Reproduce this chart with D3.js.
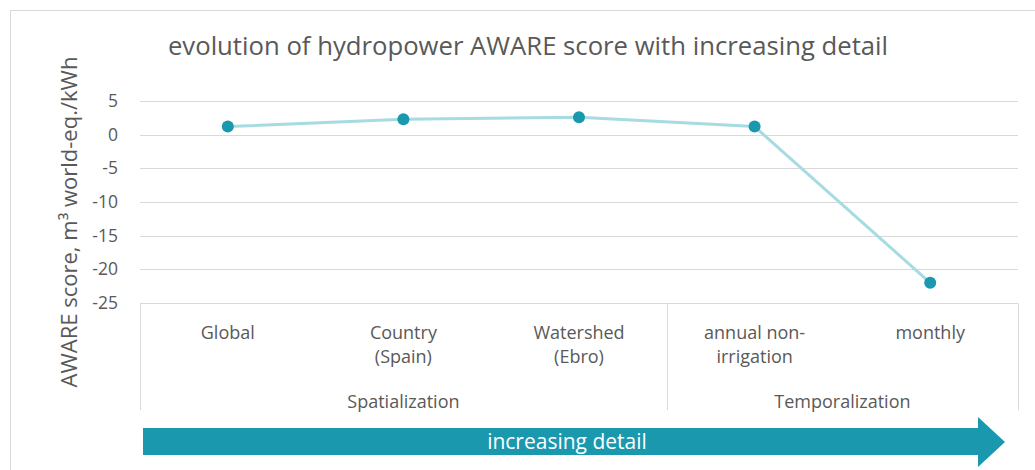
<!DOCTYPE html>
<html>
<head>
<meta charset="utf-8">
<script src="https://cdn.jsdelivr.net/npm/d3@7"></script>
<style>
  html, body { margin: 0; padding: 0; background: #fff; }
  svg { display: block; font-family: "Open Sans", "Noto Sans", sans-serif; }
</style>
</head>
<body>
<svg id="chart" width="1035" height="470"></svg>
<script>
// ---- data ----
const categories = ["Global", "Country (Spain)", "Watershed (Ebro)", "annual non-irrigation", "monthly"];
const categoryLines = [["Global"], ["Country", "(Spain)"], ["Watershed", "(Ebro)"], ["annual non-", "irrigation"], ["monthly"]];
const values = [1.2, 2.3, 2.6, 1.2, -22.0];
const groups = ["Spatialization", "Temporalization"];
const groupStart = [0, 3];
const groupEnd = [2, 4];
const yTicks = [5, 0, -5, -10, -15, -20, -25];
const title = "evolution of hydropower AWARE score with increasing detail";
const yTitle = "AWARE score, m³ world-eq./kWh";
const arrowLabel = "increasing detail";

// ---- layout ----
const svg = d3.select("#chart");
const W = 1035, H = 470;
const plot = { left: 140, right: 1018, top: 101, bottom: 303 };
const textColor = "#595959";
const gridColor = "#d9d9d9";
const teal = "#1a98ad";
const lineColor = "#a6dbe2";

// outer border
svg.append("rect").attr("x", 10.5).attr("y", 10.5).attr("width", W).attr("height", H)
  .attr("fill", "none").attr("stroke", gridColor).attr("stroke-width", 1);

const x = d3.scaleBand().domain(categories).range([plot.left, plot.right]).padding(0);
const y = d3.scaleLinear().domain([-25, 5]).range([plot.bottom, plot.top]);

// title
svg.append("text").attr("x", 528).attr("y", 55).attr("text-anchor", "middle")
  .attr("font-size", 25.7).attr("fill", textColor).text(title);

// y grid + ticks
const yAxis = d3.axisLeft(y).tickValues(yTicks).tickSize(0).tickPadding(0)
  .tickFormat(d => d3.format("d")(d).replace("−", "-"));
const yg = svg.append("g").attr("transform", `translate(${plot.left - 22},0)`).call(yAxis);
yg.select(".domain").remove();
yg.selectAll("text").attr("font-size", 17.5).attr("fill", textColor).attr("font-family", "Open Sans, sans-serif");

svg.append("g").selectAll("line").data(yTicks.filter(d => d !== -25)).join("line")
  .attr("x1", plot.left).attr("x2", plot.right)
  .attr("y1", d => Math.round(y(d)) + 0.5).attr("y2", d => Math.round(y(d)) + 0.5)
  .attr("stroke", gridColor).attr("stroke-width", 1);

// y title
svg.append("text").attr("transform", `translate(77,222) rotate(-90)`)
  .attr("text-anchor", "middle").attr("font-size", 22).attr("fill", textColor).text(yTitle);

// category axis (multi-level)
const axisY = Math.round(y(-25)) + 0.5;
const catBottom = 410;
svg.append("line").attr("x1", plot.left).attr("x2", plot.right).attr("y1", axisY).attr("y2", axisY)
  .attr("stroke", gridColor);
const seps = [x(categories[0])].concat(groupEnd.map(i => x(categories[i]) + x.bandwidth()));
svg.append("g").selectAll("line").data(seps).join("line")
  .attr("x1", d => Math.round(d) + 0.5).attr("x2", d => Math.round(d) + 0.5)
  .attr("y1", axisY).attr("y2", catBottom).attr("stroke", gridColor);

const catG = svg.append("g");
categories.forEach((c, i) => {
  const cx = x(c) + x.bandwidth() / 2;
  const t = catG.append("text").attr("x", cx).attr("y", 339).attr("text-anchor", "middle")
    .attr("font-size", 18).attr("fill", textColor);
  categoryLines[i].forEach((ln, j) => {
    t.append("tspan").attr("x", cx).attr("dy", j === 0 ? 0 : 24).text(ln);
  });
});
groups.forEach((g, i) => {
  const gx = (x(categories[groupStart[i]]) + x(categories[groupEnd[i]]) + x.bandwidth()) / 2;
  svg.append("text").attr("x", gx).attr("y", 408).attr("text-anchor", "middle")
    .attr("font-size", 18).attr("fill", textColor).text(g);
});

// line + markers
const pts = categories.map((c, i) => [x(c) + x.bandwidth() / 2, y(values[i])]);
svg.append("path").attr("d", d3.line()(pts)).attr("fill", "none")
  .attr("stroke", lineColor).attr("stroke-width", 3).attr("stroke-linejoin", "round");
svg.append("g").selectAll("circle").data(pts).join("circle")
  .attr("cx", d => d[0]).attr("cy", d => d[1]).attr("r", 6).attr("fill", teal);

// arrow
const ax0 = 143, ax1 = 978, atip = 1005, ay0 = 428, ay1 = 455, ah0 = 417, ah1 = 467;
svg.append("path")
  .attr("d", `M${ax0},${ay0} L${ax1},${ay0} L${ax1},${ah0} L${atip},${(ah0 + ah1) / 2} L${ax1},${ah1} L${ax1},${ay1} L${ax0},${ay1} Z`)
  .attr("fill", teal);
svg.append("text").attr("x", 567).attr("y", 449).attr("text-anchor", "middle")
  .attr("font-size", 21).attr("fill", "#ffffff").text(arrowLabel);
</script>
</body>
</html>
